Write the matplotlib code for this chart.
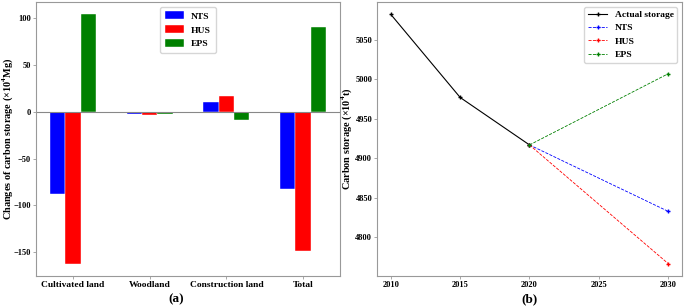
import numpy as np
import matplotlib

matplotlib.use("Agg")
import matplotlib.pyplot as plt

plt.rcParams["font.family"] = ["Liberation Serif", "DejaVu Serif"]
plt.rcParams["font.weight"] = "bold"
plt.rcParams["mathtext.fontset"] = "custom"
plt.rcParams["mathtext.rm"] = "Liberation Serif:bold"
plt.rcParams["mathtext.bf"] = "Liberation Serif:bold"

# panel (a): change of carbon storage by land type
land_types = ["Cultivated land", "Woodland", "Construction land", "Total"]
nts_change = [-88, -2, 10, -82]
hus_change = [-162, -3, 17, -149]
eps_change = [104, -2, -9, 91]

# panel (b): carbon storage trajectory
actual_years = [2010, 2015, 2020]
actual_storage = [5082, 4977, 4917]
scen_years = [2020, 2030]
nts_storage = [4917, 4833]
hus_storage = [4917, 4767]
eps_storage = [4917, 5007]

SPINE = "#999999"
TICK_FS = 6
LABEL_FS = 7.4

fig = plt.figure(figsize=(6.85, 3.08), dpi=100)
ax1 = fig.add_axes([36 / 685, 1 - 276 / 308, 304 / 685, 274 / 308])
ax2 = fig.add_axes([377 / 685, 1 - 276 / 308, 305 / 685, 274 / 308])

x = np.arange(len(land_types))
w = 0.2
ax1.bar(x - w, nts_change, w, color="blue", edgecolor="white", linewidth=0.3, label="NTS")
ax1.bar(x, hus_change, w, color="red", edgecolor="white", linewidth=0.3, label="HUS")
ax1.bar(x + w, eps_change, w, color="green", edgecolor="white", linewidth=0.3, label="EPS")
ax1.axhline(0, color="#888888", linewidth=0.8)
ax1.set_xticks(x)
ax1.set_xticklabels(land_types, fontsize=6.8, fontweight="bold")
ax1.set_yticks([-150, -100, -50, 0, 50, 100])
ax1.set_yticklabels(["\u2212150", "\u2212100", "\u221250", "0", "50", "100"])
ax1.tick_params(axis="y", labelsize=TICK_FS)
ax1.set_ylabel(r"Changes of carbon storage (×10$^{4}$Mg)", fontsize=LABEL_FS, fontweight="bold")
ax1.yaxis.set_label_coords(-0.068, 0.5)
ax1.legend(loc="upper center", prop={"weight": "bold", "size": 6.8},
           handleheight=0.9, borderpad=0.5)
ax1.text(0.46, -0.085, "(a)", transform=ax1.transAxes, ha="center", va="center",
         fontsize=9.5, fontweight="bold")

ax2.plot(actual_years, actual_storage, "-+", color="black", linewidth=0.8, markersize=3,
         label="Actual storage")
ax2.plot(scen_years, nts_storage, "--+", color="blue", linewidth=0.6, markersize=3, label="NTS")
ax2.plot(scen_years, hus_storage, "--+", color="red", linewidth=0.6, markersize=3, label="HUS")
ax2.plot(scen_years, eps_storage, "--+", color="green", linewidth=0.6, markersize=3, label="EPS")
ax2.set_xticks([2010, 2015, 2020, 2025, 2030])
ax2.set_yticks([4800, 4850, 4900, 4950, 5000, 5050])
ax2.tick_params(axis="both", labelsize=TICK_FS)
ax2.set_ylabel(r"Carbon storage (×10$^{4}$t)", fontsize=LABEL_FS, fontweight="bold")
ax2.yaxis.set_label_coords(-0.075, 0.5)
ax2.legend(loc="upper right", prop={"weight": "bold", "size": 6.8})
ax2.text(0.5, -0.085, "(b)", transform=ax2.transAxes, ha="center", va="center",
         fontsize=9.5, fontweight="bold")

for ax in (ax1, ax2):
    for s in ax.spines.values():
        s.set_color(SPINE)
    ax.tick_params(color=SPINE, length=2, width=0.6, pad=1.5)
    for lab in ax.get_xticklabels() + ax.get_yticklabels():
        lab.set_fontweight("bold")

fig.savefig("out.png", dpi=100)
